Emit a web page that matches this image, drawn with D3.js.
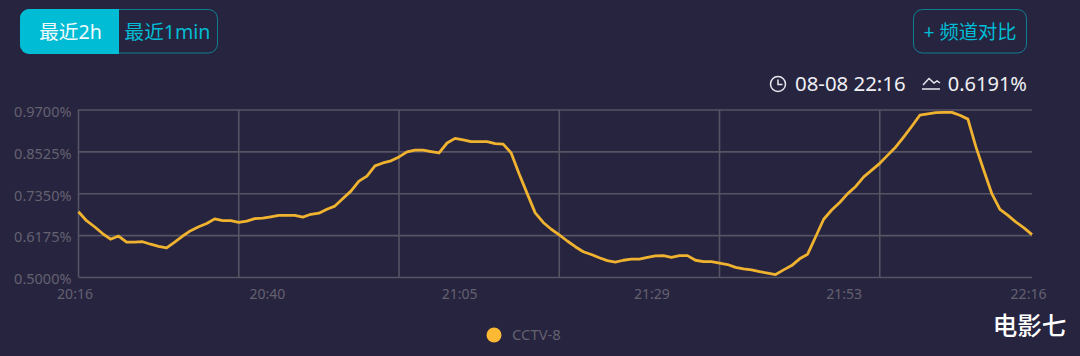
<!DOCTYPE html>
<html>
<head>
<meta charset="utf-8">
<script src="https://cdn.jsdelivr.net/npm/d3@7"></script>
<style>
  html, body { margin: 0; padding: 0; background: #272440; }
  svg { display: block; font-family: "Noto Sans", "Noto Sans CJK SC", sans-serif; }
</style>
</head>
<body>
<div id="chart"></div>
<script>
// Dữ liệu
const seriesName = "CCTV-8";
const ratings = [
  0.683, 0.658, 0.641, 0.622, 0.606, 0.615, 0.598, 0.598, 0.599, 0.592,
  0.586, 0.582, 0.598, 0.615, 0.630, 0.641, 0.650, 0.663, 0.658, 0.658,
  0.653, 0.657, 0.664, 0.665, 0.669, 0.673, 0.673, 0.673, 0.668, 0.676,
  0.679, 0.690, 0.699, 0.720, 0.741, 0.769, 0.783, 0.812, 0.820, 0.826,
  0.837, 0.851, 0.856, 0.856, 0.852, 0.848, 0.876, 0.889, 0.885, 0.880,
  0.880, 0.880, 0.874, 0.873, 0.848, 0.789, 0.734, 0.680, 0.653, 0.634,
  0.618, 0.601, 0.585, 0.571, 0.563, 0.554, 0.546, 0.542, 0.547, 0.550,
  0.550, 0.555, 0.559, 0.560, 0.555, 0.560, 0.560, 0.547, 0.543, 0.543,
  0.539, 0.535, 0.527, 0.523, 0.520, 0.515, 0.511, 0.507, 0.520, 0.532,
  0.551, 0.564, 0.613, 0.662, 0.688, 0.709, 0.734, 0.754, 0.781, 0.800,
  0.819, 0.842, 0.865, 0.893, 0.923, 0.954, 0.958, 0.961, 0.962, 0.962,
  0.954, 0.943, 0.865, 0.798, 0.733, 0.690, 0.673, 0.654, 0.638, 0.6191
];
const yTicks = [0.5, 0.6175, 0.735, 0.8525, 0.97];
const xGridIndex = [0, 20, 40, 60, 80, 100];
const xLabelIndex = [0, 24, 48, 72, 96, 119];
const xLabels = ["20:16", "20:40", "21:05", "21:29", "21:53", "22:16"];

const width = 1080, height = 356;
const margin = { top: 109.5, right: 48, bottom: 79, left: 78.5 };

const bg = "#272440", cyan = "#00bcd4", cyanLine = "#0f7f93";
const grid = "#565362", tickColor = "#64616f", yellow = "#f0b32f";

const svg = d3.select("#chart").append("svg")
  .attr("width", width)
  .attr("height", height);

svg.append("rect").attr("width", width).attr("height", height).attr("fill", bg);

// Scale
const x = d3.scaleLinear().domain([0, ratings.length - 1]).range([margin.left, width - margin.right]);
const y = d3.scaleLinear().domain([0.5, 0.97]).range([height - margin.bottom, margin.top]);

// Trục Y + lưới ngang
svg.append("g")
  .attr("transform", `translate(${margin.left},0)`)
  .call(d3.axisLeft(y).tickValues(yTicks).tickSize(0).tickPadding(7)
    .tickFormat(d => d.toFixed(4) + "%"))
  .attr("font-family", null)
  .call(g => g.select(".domain").remove())
  .call(g => g.selectAll("text").attr("fill", tickColor).attr("dy", "0.47em").style("font-size", "14.5px"))
  .call(g => g.selectAll(".tick line")
    .attr("x2", width - margin.right - margin.left)
    .attr("stroke", grid).attr("stroke-width", 1.6));

// Lưới dọc
svg.append("g").selectAll("line")
  .data(xGridIndex)
  .enter().append("line")
    .attr("x1", d => x(d)).attr("x2", d => x(d))
    .attr("y1", y(0.97)).attr("y2", y(0.5))
    .attr("stroke", grid).attr("stroke-width", 1.6);

// Trục X
svg.append("g")
  .attr("transform", `translate(0,${height - margin.bottom})`)
  .call(d3.axisBottom(x).tickValues(xLabelIndex).tickSize(0).tickPadding(12)
    .tickFormat((d, i) => xLabels[i]))
  .attr("font-family", null)
  .call(g => g.select(".domain").remove())
  .call(g => g.selectAll("text").attr("fill", tickColor).attr("dx", -4).style("font-size", "14px"));

// Đường
const line = d3.line().x((d, i) => x(i)).y(d => y(d));
svg.append("path")
  .datum(ratings)
  .attr("d", line)
  .attr("fill", "none")
  .attr("stroke", yellow)
  .attr("stroke-width", 2.8)
  .attr("stroke-linejoin", "round");

// Nút trái
svg.append("rect").attr("x", 20.5).attr("y", 9.5).attr("width", 197).attr("height", 43.5).attr("rx", 9)
  .attr("fill", "none").attr("stroke", cyanLine);
svg.append("path")
  .attr("d", "M119,9 H29 a9,9 0 0 0 -9,9 V45 a9,9 0 0 0 9,9 H119 Z")
  .attr("fill", cyan);

function label(tx, ty, text, size, fill, anchor) {
  return svg.append("text").attr("x", tx).attr("y", ty).text(text)
    .attr("fill", fill).attr("text-anchor", anchor || "middle")
    .style("font-size", size + "px");
}
label(70.5, 38.5, "最近2h", 19.6, "#f2fbfc");
label(167.5, 38.5, "最近1min", 19.6, cyan);

// Nút phải
svg.append("rect").attr("x", 913.5).attr("y", 9.5).attr("width", 113).attr("height", 43.5).attr("rx", 9)
  .attr("fill", "none").attr("stroke", cyanLine);
label(970, 39, "+ 频道对比", 19.3, cyan);

// Dòng trạng thái
svg.append("circle").attr("cx", 778).attr("cy", 84).attr("r", 7.5)
  .attr("fill", "none").attr("stroke", "#e8e8ee").attr("stroke-width", 1.5);
svg.append("path").attr("d", "M778,79.5 V84.5 H782.5")
  .attr("fill", "none").attr("stroke", "#e8e8ee").attr("stroke-width", 1.5);
label(795, 90.5, "08-08 22:16", 20.4, "#f0f0f4", "start");
svg.append("path").attr("d", "M923,85 L929,78.5 L934,83 L937,81 L940,83 M922,89 H940")
  .attr("fill", "none").attr("stroke", "#e8e8ee").attr("stroke-width", 1.5);
label(1027, 90.5, "0.6191%", 20, "#f0f0f4", "end");

// Chú giải
svg.append("circle").attr("cx", 494).attr("cy", 335).attr("r", 7.5).attr("fill", "#fdb933");
label(512, 340, seriesName, 14.8, tickColor, "start");

// Watermark
label(1029.5, 334.5, "电影七", 24.5, "#ffffff").style("font-weight", "500");
</script>
</body>
</html>
